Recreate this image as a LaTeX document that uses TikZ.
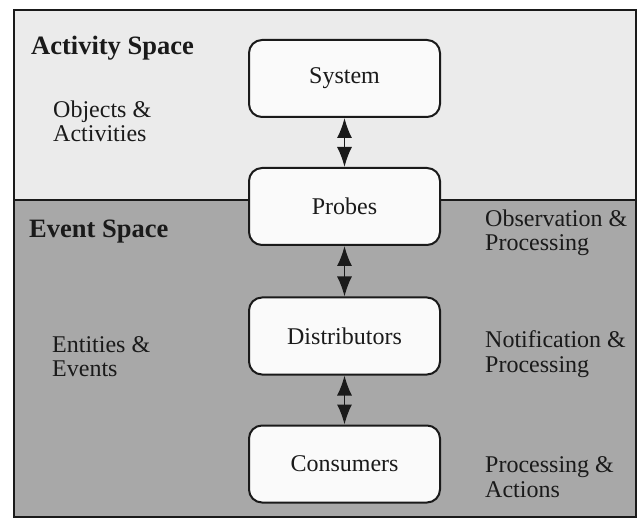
\documentclass[tikz,border=0pt]{standalone}
\usepackage{fontspec}
\setmainfont{Liberation Serif}
\usetikzlibrary{arrows.meta}
\definecolor{topgray}{HTML}{EBEBEB}
\definecolor{botgray}{HTML}{A8A8A8}
\definecolor{boxfill}{HTML}{FAFAFA}
\definecolor{ink}{HTML}{1A1A1A}
\tikzset{
  stagebox/.style={draw=ink, line width=2pt, rounded corners=13pt, fill=boxfill,
    minimum width=191pt, minimum height=77pt, inner sep=0pt,
    font=\fontsize{24}{26}\selectfont, text=ink},
  header/.style={anchor=base west, inner sep=0pt, font=\fontsize{26.5}{28}\selectfont\bfseries, text=ink},
  sidelabel/.style={anchor=base west, inner sep=0pt, align=left, font=\fontsize{24}{24.5}\selectfont, text=ink},
  dblarrow/.style={draw=ink, line width=1.6pt, {Latex[length=20pt,width=15pt]}-{Latex[length=20pt,width=15pt]}}
}
\begin{document}
\begin{tikzpicture}[x=1pt,y=-1pt]
\useasboundingbox (0,0) rectangle (641,524);
\fill[white] (0,0) rectangle (641,524);
\fill[topgray] (14,10) rectangle (636,200);
\fill[botgray] (14,200) rectangle (636,517);
\draw[ink, line width=1.5pt] (14,200) -- (636,200);
\draw[ink, line width=1.5pt] (14,10) rectangle (636,517);

\node[header] (act) at (31,55) {Activity Space};
\node[header] (evt) at (29,238) {Event Space};
\node[sidelabel] (obj) at (53,142) {Objects \&\\Activities};
\node[sidelabel] (ent) at (52,377) {Entities \&\\Events};
\node[sidelabel] (obs) at (485,251) {Observation \&\\Processing};
\node[sidelabel] (not) at (485,372) {Notification \&\\Processing};
\node[sidelabel] (pra) at (485,497) {Processing \&\\Actions};

\node[stagebox] (sys) at (344.5,78.5) {System};
\node[stagebox] (prb) at (344.5,206.5) {Probes};
\node[stagebox] (dis) at (344.5,336) {Distributors};
\node[stagebox] (con) at (344.5,464) {Consumers};

\draw[dblarrow] (sys.south) -- (prb.north);
\draw[dblarrow] (prb.south) -- (dis.north);
\draw[dblarrow] (dis.south) -- (con.north);
\end{tikzpicture}
\end{document}
